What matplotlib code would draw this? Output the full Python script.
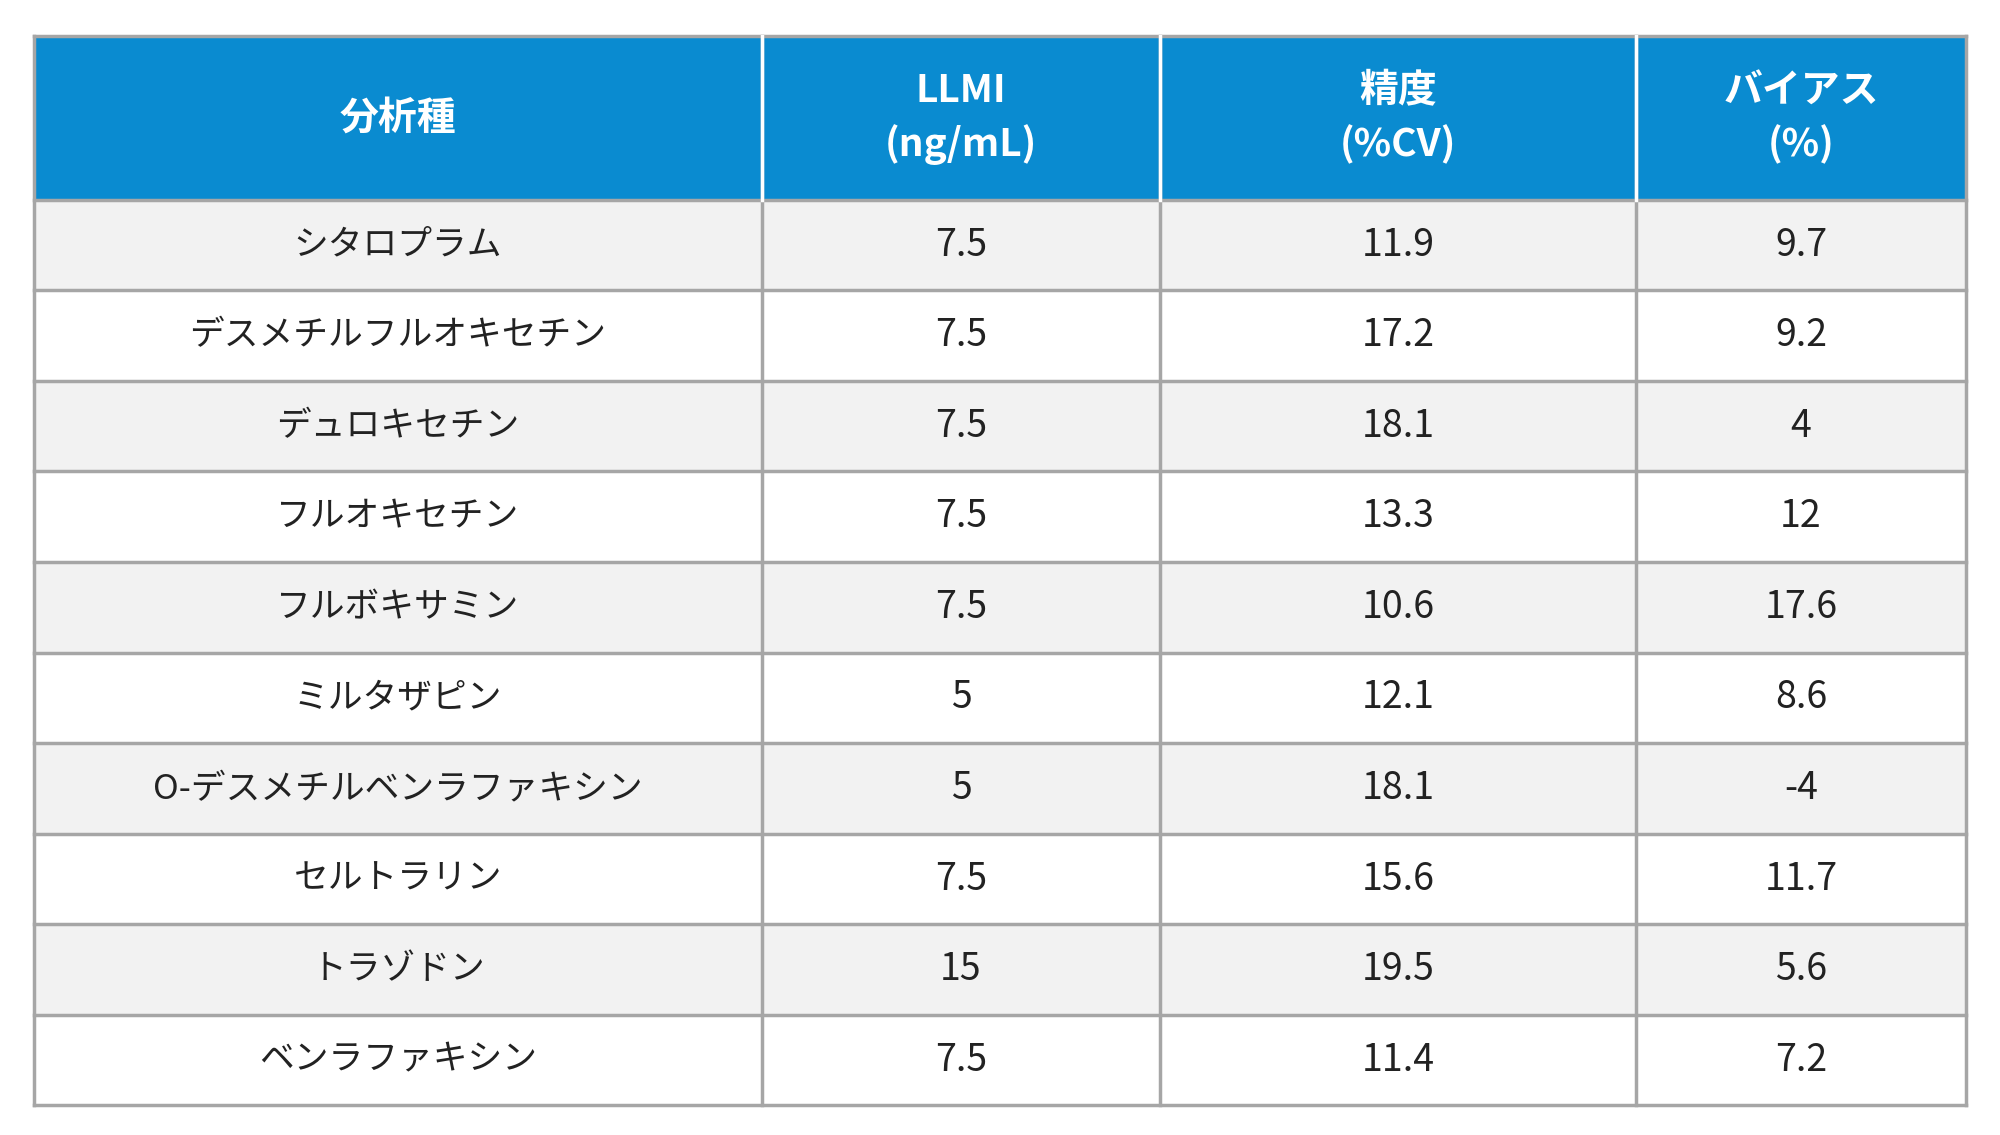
import matplotlib
matplotlib.use("Agg")
import matplotlib.pyplot as plt
from matplotlib.patches import Rectangle

headers = ["分析種", "LLMI\n(ng/mL)", "精度\n(%CV)", "バイアス\n(%)"]
analytes = ["シタロプラム", "デスメチルフルオキセチン", "デュロキセチン", "フルオキセチン",
            "フルボキサミン", "ミルタザピン", "O-デスメチルベンラファキシン", "セルトラリン",
            "トラゾドン", "ベンラファキシン"]
llmi = ["7.5", "7.5", "7.5", "7.5", "7.5", "5", "5", "7.5", "15", "7.5"]
cv = ["11.9", "17.2", "18.1", "13.3", "10.6", "12.1", "18.1", "15.6", "19.5", "11.4"]
bias = ["9.7", "9.2", "4", "12", "17.6", "8.6", "-4", "11.7", "5.6", "7.2"]

plt.rcParams["font.family"] = ["Noto Sans CJK JP"]
fig = plt.figure(figsize=(20, 11.35), dpi=100)
ax = fig.add_axes([0, 0, 1, 1])
ax.set_xlim(0, 1); ax.set_ylim(1, 0); ax.axis("off")

cols = [0.017, 0.381, 0.580, 0.818, 0.983]
top, hbot, bot = 0.032, 0.176, 0.974
n = len(analytes)
rh = (bot - hbot) / n
line = "#a6a6a6"

ax.add_patch(Rectangle((cols[0], top), cols[-1]-cols[0], hbot-top, color="#0a8bd0", zorder=1))
for i in range(n):
    y0 = hbot + i*rh
    ax.add_patch(Rectangle((cols[0], y0), cols[-1]-cols[0], rh,
                           color="#f2f2f2" if i % 2 == 0 else "white", zorder=1))
for j, h in enumerate(headers):
    ax.text((cols[j]+cols[j+1])/2, (top+hbot)/2, h, ha="center", va="center",
            color="white", fontsize=28, fontweight="bold", linespacing=1.45, zorder=3)
for i in range(n):
    yc = hbot + (i+0.5)*rh
    for j, v in enumerate([analytes[i], llmi[i], cv[i], bias[i]]):
        ax.text((cols[j]+cols[j+1])/2, yc, v, ha="center", va="center",
                color="#222222", fontsize=27 if j else 25, zorder=3)
# grid
for i in range(n+1):
    y = hbot + i*rh
    ax.plot([cols[0], cols[-1]], [y, y], color=line, lw=2.5, zorder=2)
ax.plot([cols[0], cols[-1]], [top, top], color=line, lw=2.5, zorder=2)
for x in cols:
    ax.plot([x, x], [top, bot], color=line if x in (cols[0], cols[-1]) else line, lw=2.5, zorder=2)
for x in cols[1:-1]:
    ax.plot([x, x], [top, hbot], color="white", lw=2.5, zorder=2.5)
fig.savefig("out.png", dpi=100, facecolor="white")
